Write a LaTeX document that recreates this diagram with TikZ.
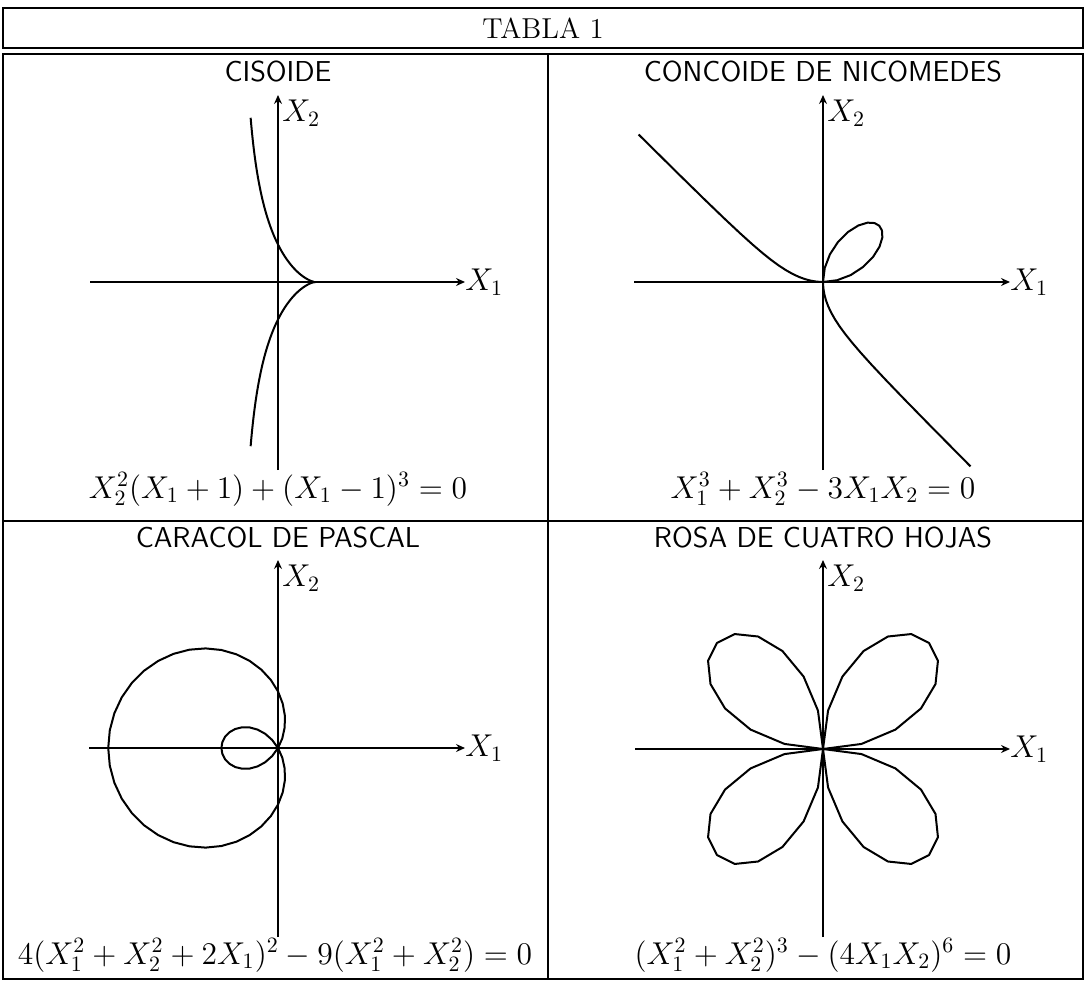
\documentclass[tikz,border=0pt]{standalone}
\usetikzlibrary{arrows.meta}
\begin{document}
\begin{tikzpicture}[x=0.5pt,y=0.5pt,
  frame/.style={line width=1.2pt},
  axis/.style={line width=1.1pt,-{Stealth[length=4.5pt,width=4pt,inset=1.5pt]}},
  curve/.style={line width=1pt,line join=round},
  ttl/.style={anchor=base,font=\fontsize{14.4}{17}\selectfont\sffamily},
  eq/.style={anchor=base,font=\fontsize{14.4}{17}\selectfont,scale=1.095,transform shape},
  lbl/.style={inner sep=0pt,font=\fontsize{14.4}{17}\selectfont,scale=1.095,transform shape}]
\useasboundingbox (0,0) rectangle (1086,982);
% frames
\draw[frame] (3,974) rectangle (1083,934);
\draw[frame] (3,928) rectangle (1083,3);
\draw[frame] (548,928) -- (548,3);
\draw[frame] (3,461) -- (1083,461);
\node[font=\fontsize{14.4}{17}\selectfont] (title) at (543,954) {TABLA 1};
% ---------- cell 1: cisoide
\coordinate (O1) at (278,700);
\coordinate (a1l) at (90,700); \coordinate (a1r) at (465,700);
\coordinate (a1b) at (278,512); \coordinate (a1t) at (278,887);
\draw[axis] (a1l) -- (a1r);
\draw[axis] (a1b) -- (a1t);
\node[lbl,anchor=west] (x11) at (a1r) {$X_1$};
\node[lbl,anchor=north west] (x12) at ([shift={(4,-5)}]a1t) {$X_2$};
\node[ttl] (t1) at (278,900) {CISOIDE};
\node[eq] (e1) at (278,484) {$X_2^2(X_1+1)+(X_1-1)^3=0$};
\begin{scope}[shift={(O1)},x=18.75pt,y=18.75pt]
\draw[curve] plot[domain=-0.73:1,samples=90] (\x,{sqrt(abs((1-\x)*(1-\x)*(1-\x)/(1+\x)))});
\draw[curve] plot[domain=-0.73:1,samples=90] (\x,{-sqrt(abs((1-\x)*(1-\x)*(1-\x)/(1+\x)))});
\end{scope}
% ---------- cell 2: concoide
\coordinate (O2) at (823,700);
\coordinate (a2l) at (634,700); \coordinate (a2r) at (1010,700);
\coordinate (a2b) at (823,512); \coordinate (a2t) at (823,887);
\draw[axis] (a2l) -- (a2r);
\draw[axis] (a2b) -- (a2t);
\node[lbl,anchor=west] (x21) at (a2r) {$X_1$};
\node[lbl,anchor=north west] (x22) at ([shift={(4,-5)}]a2t) {$X_2$};
\node[ttl] (t2) at (823,900) {CONCOIDE DE NICOMEDES};
\node[eq] (e2) at (823,484) {$X_1^3+X_2^3-3X_1X_2=0$};
\begin{scope}[shift={(O2)},x=18.75pt,y=18.75pt]
\draw[curve] plot[domain=-0.8:0,samples=16] ({3*\x/(1+\x*\x*\x)},{3*\x*\x/(1+\x*\x*\x)});
\draw[curve] plot[domain=-0.8:0,samples=16] ({3*\x*\x/(1+\x*\x*\x)},{3*\x/(1+\x*\x*\x)});
\draw[curve] plot[domain=0:1,samples=9] ({3*\x/(1+\x*\x*\x)},{3*\x*\x/(1+\x*\x*\x)})
  -- plot[domain=1:0,samples=9] ({3*\x*\x/(1+\x*\x*\x)},{3*\x/(1+\x*\x*\x)});
\end{scope}
% ---------- cell 3: caracol
\coordinate (O3) at (278,234);
\coordinate (a3l) at (89,234); \coordinate (a3r) at (465,234);
\coordinate (a3b) at (278,45); \coordinate (a3t) at (278,422);
\draw[axis] (a3l) -- (a3r);
\draw[axis] (a3b) -- (a3t);
\node[lbl,anchor=west] (x31) at (a3r) {$X_1$};
\node[lbl,anchor=north west] (x32) at ([shift={(4,-5)}]a3t) {$X_2$};
\node[ttl] (t3) at (278,435) {CARACOL DE PASCAL};
\node[eq] (e3) at (275,18) {$4(X_1^2+X_2^2+2X_1)^2-9(X_1^2+X_2^2)=0$};
\begin{scope}[shift={(O3)},x=18.75pt,y=18.75pt]
\draw[curve] plot[domain=0:360,samples=61] ({1.509*(1-2*cos(\x))*cos(\x)},{1.509*(1-2*cos(\x))*sin(\x)}) -- cycle;
\end{scope}
% ---------- cell 4: rosa
\coordinate (O4) at (823,233);
\coordinate (a4l) at (635,233); \coordinate (a4r) at (1010,233);
\coordinate (a4b) at (823,45); \coordinate (a4t) at (823,422);
\draw[axis] (a4l) -- (a4r);
\draw[axis] (a4b) -- (a4t);
\node[lbl,anchor=west] (x41) at (a4r) {$X_1$};
\node[lbl,anchor=north west] (x42) at ([shift={(4,-5)}]a4t) {$X_2$};
\node[ttl] (t4) at (823,435) {ROSA DE CUATRO HOJAS};
\node[eq] (e4) at (823,18) {$(X_1^2+X_2^2)^3-(4X_1X_2)^6=0$};
\begin{scope}[shift={(O4)},x=18.75pt,y=18.75pt]
\draw[curve] plot[domain=0:360,samples=49] ({4*sin(2*\x)*cos(\x)},{4*sin(2*\x)*sin(\x)}) -- cycle;
\end{scope}
\end{tikzpicture}
\end{document}
